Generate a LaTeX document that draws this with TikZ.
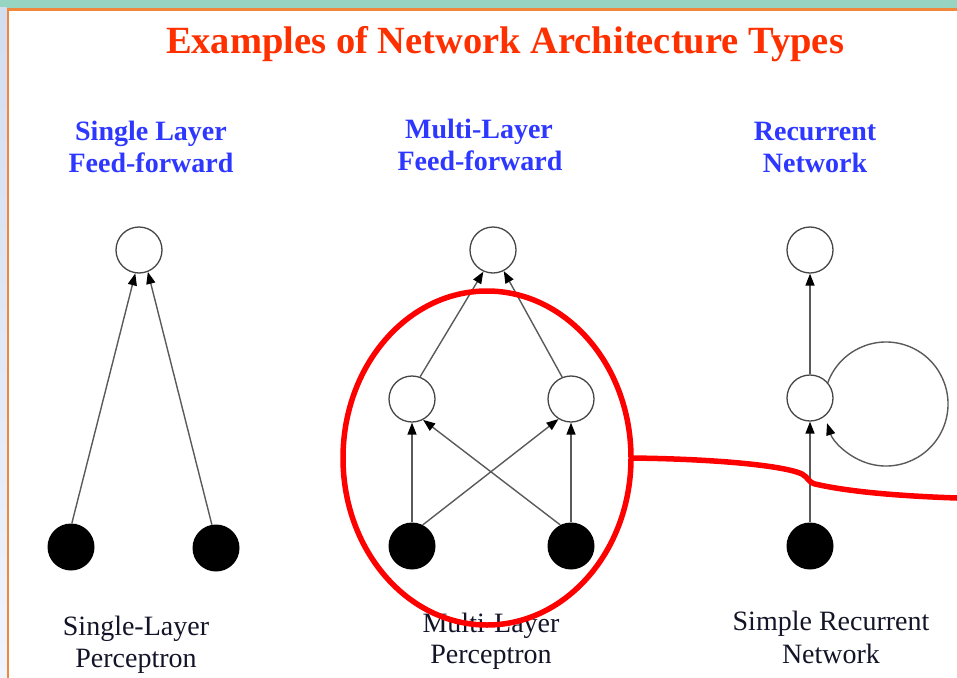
\documentclass[tikz,border=0pt]{standalone}
\usepackage{fontspec}
\setmainfont{Liberation Serif}
\usetikzlibrary{arrows.meta,calc}
\definecolor{titlered}{RGB}{255,48,0}
\definecolor{headblue}{RGB}{45,55,255}
\definecolor{framecol}{RGB}{240,135,60}
\definecolor{topstrip}{RGB}{152,212,194}
\definecolor{ngray}{RGB}{70,70,70}
\definecolor{lgray}{RGB}{90,90,90}
\definecolor{labcol}{RGB}{20,20,40}
\begin{document}
\begin{tikzpicture}[x=1pt,y=-1pt,
  neuron/.style={circle, draw=ngray, line width=1.3pt, fill=white, minimum size=46pt, inner sep=0pt},
  inp/.style={circle, fill=black, minimum size=47pt, inner sep=0pt},
  conn/.style={draw=lgray, line width=1.4pt, -{Triangle[length=12pt,width=9pt,black]}},
  head/.style={font=\bfseries\fontsize{28}{30}\selectfont, text=headblue, inner sep=0pt, anchor=base},
  lab/.style={font=\fontsize{28}{30}\selectfont, text=labcol, inner sep=0pt, anchor=base},
  redmark/.style={draw=red, line width=5.5pt}]
\useasboundingbox (0,0) rectangle (957,677);
\clip (0,0) rectangle (957,677);
% background
\fill[white] (0,0) rectangle (957,677);
\fill[topstrip] (0,0) rectangle (957,8);
\shade[top color={rgb,255:red,210;green,221;blue,240}, bottom color={rgb,255:red,240;green,244;blue,252}] (0,8) rectangle (6.5,677);
\draw[framecol, line width=2.6pt] (7.8,690) -- (7.8,9.3) -- (970,9.3);
% title
\node[font=\bfseries\fontsize{38.5}{40}\selectfont, text=titlered, inner sep=0pt, anchor=base] (title) at (505,53) {Examples of Network Architecture Types};
% headings
\node[head] (h1a) at (151,140) {Single Layer};
\node[head] (h1b) at (151,172) {Feed-forward};
\node[head] (h2a) at (479,138) {Multi-Layer};
\node[head] (h2b) at (480,170) {Feed-forward};
\node[head] (h3a) at (815,140) {Recurrent};
\node[head] (h3b) at (815,172) {Network};
% bottom labels
\node[lab] (l1a) at (136,635) {Single-Layer};
\node[lab] (l1b) at (136,667) {Perceptron};
\node[lab] (l2a) at (491,632) {Multi-Layer};
\node[lab] (l2b) at (491,663) {Perceptron};
\node[lab] (l3a) at (831,630) {Simple Recurrent};
\node[lab] (l3b) at (831,663) {Network};
% single layer
\node[neuron] (so) at (139,250) {};
\node[inp] (si1) at (71,547) {};
\node[inp] (si2) at (216,548) {};
\draw[conn] (si1.88) -- (so.261);
\draw[conn] (si2.100) -- (so.292);
% multi layer
\node[neuron] (mo) at (493,250) {};
\node[neuron] (hl) at (412,399) {};
\node[neuron] (hr) at (571,399) {};
\node[inp] (mi1) at (412,546) {};
\node[inp] (mi2) at (571,546) {};
\draw[conn] (hl.70) -- (mo.246);
\draw[conn] (hr.112) -- (mo.297);
\draw[conn] (mi1.90) -- (hl.270);
\draw[conn] (mi2.90) -- (hr.270);
\draw[conn] (mi1.63) -- (hr.238);
\draw[conn] (mi2.117) -- (hl.298);
% recurrent
\node[neuron] (ro) at (810,250) {};
\node[neuron] (rh) at (810,398) {};
\node[inp] (ri) at (810,546) {};
\coordinate (loopc) at (886,404);
\draw[conn] (ri.90) -- (rh.270);
\draw[conn] (rh.90) -- (ro.270);
\draw[conn] ([shift={(160:62pt)}]loopc) arc[start angle=160, end angle=-162, radius=62pt];
% red highlight
\draw[redmark] (487,458) ellipse[x radius=144pt, y radius=167pt];
\coordinate (rs) at (631,458);
\coordinate (re) at (957,498);
\draw[redmark] (rs) .. controls (720,459) and (785,466) .. (802,474)
  .. controls (808,477) and (808,482) .. (815,484)
  .. controls (850,492) and (900,496) .. (re);
\end{tikzpicture}
\end{document}
